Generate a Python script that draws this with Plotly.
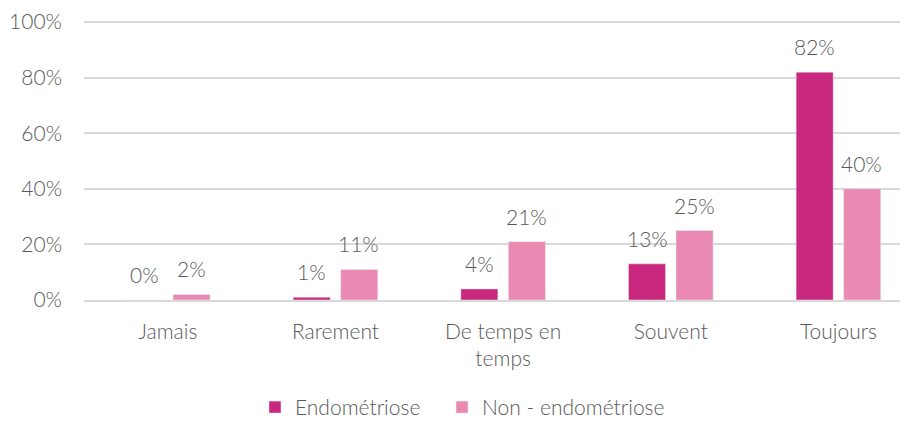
import plotly.graph_objects as go

categories = ["Jamais", "Rarement", "De temps en<br>temps", "Souvent", "Toujours"]
endo = [0, 1, 4, 13, 82]
non_endo = [2, 11, 21, 25, 40]
y_ticks = [0, 20, 40, 60, 80, 100]
y_labels = ["0%", "20%", "40%", "60%", "80%", "100%"]

grey = "#595959"
font_family = "Lato, 'Open Sans', sans-serif"
fsize = 21

fig = go.Figure()
fig.add_trace(go.Bar(x=categories, y=endo, name="Endométriose",
                     marker=dict(color="#c9287e"), legend="legend"))
fig.add_trace(go.Bar(x=categories, y=non_endo, name="Non - endométriose",
                     marker=dict(color="#ea89b1"), legend="legend2"))

# data labels above the bars, shifted to each bar of the group
for vals, dx in [(endo, -23.5), (non_endo, 23.5)]:
    for c, v in zip(categories, vals):
        fig.add_annotation(x=c, y=v, text=f"{v}%", showarrow=False,
                           xshift=dx, yshift=11, yanchor="bottom",
                           font=dict(size=fsize, color=grey, weight=300))

leg = dict(orientation="h", xanchor="left", y=-0.385, yanchor="middle",
           font=dict(size=fsize, color=grey, weight=300))

# page body has an 8px margin, so the figure is 8px smaller and starts at (8, 8)
fig.update_layout(
    width=900, height=413,
    margin=dict(l=76, r=0, t=13, b=121, autoexpand=False),
    barmode="group", bargap=0.433, bargroupgap=0.22,
    plot_bgcolor="white", paper_bgcolor="white",
    font=dict(family=font_family, size=fsize, color=grey, weight=300),
    showlegend=True,
    legend=dict(leg, x=0.2075),
    legend2=dict(leg, x=0.4345),
)
fig.update_xaxes(range=[-0.5, 4.415], showgrid=False, showline=True,
                 linecolor="#d9d9d9", linewidth=1.5, ticks="", automargin=False,
                 ticklabelstandoff=12,
                 tickfont=dict(size=fsize, color=grey, weight=300))
fig.update_yaxes(range=[0, 100.4], tickvals=y_ticks, ticktext=y_labels,
                 showgrid=True, gridcolor="#d9d9d9", gridwidth=1.5,
                 zeroline=False, ticklabelstandoff=21, automargin=False,
                 tickfont=dict(size=fsize, color=grey, weight=300))

fig.write_html("out.html")
